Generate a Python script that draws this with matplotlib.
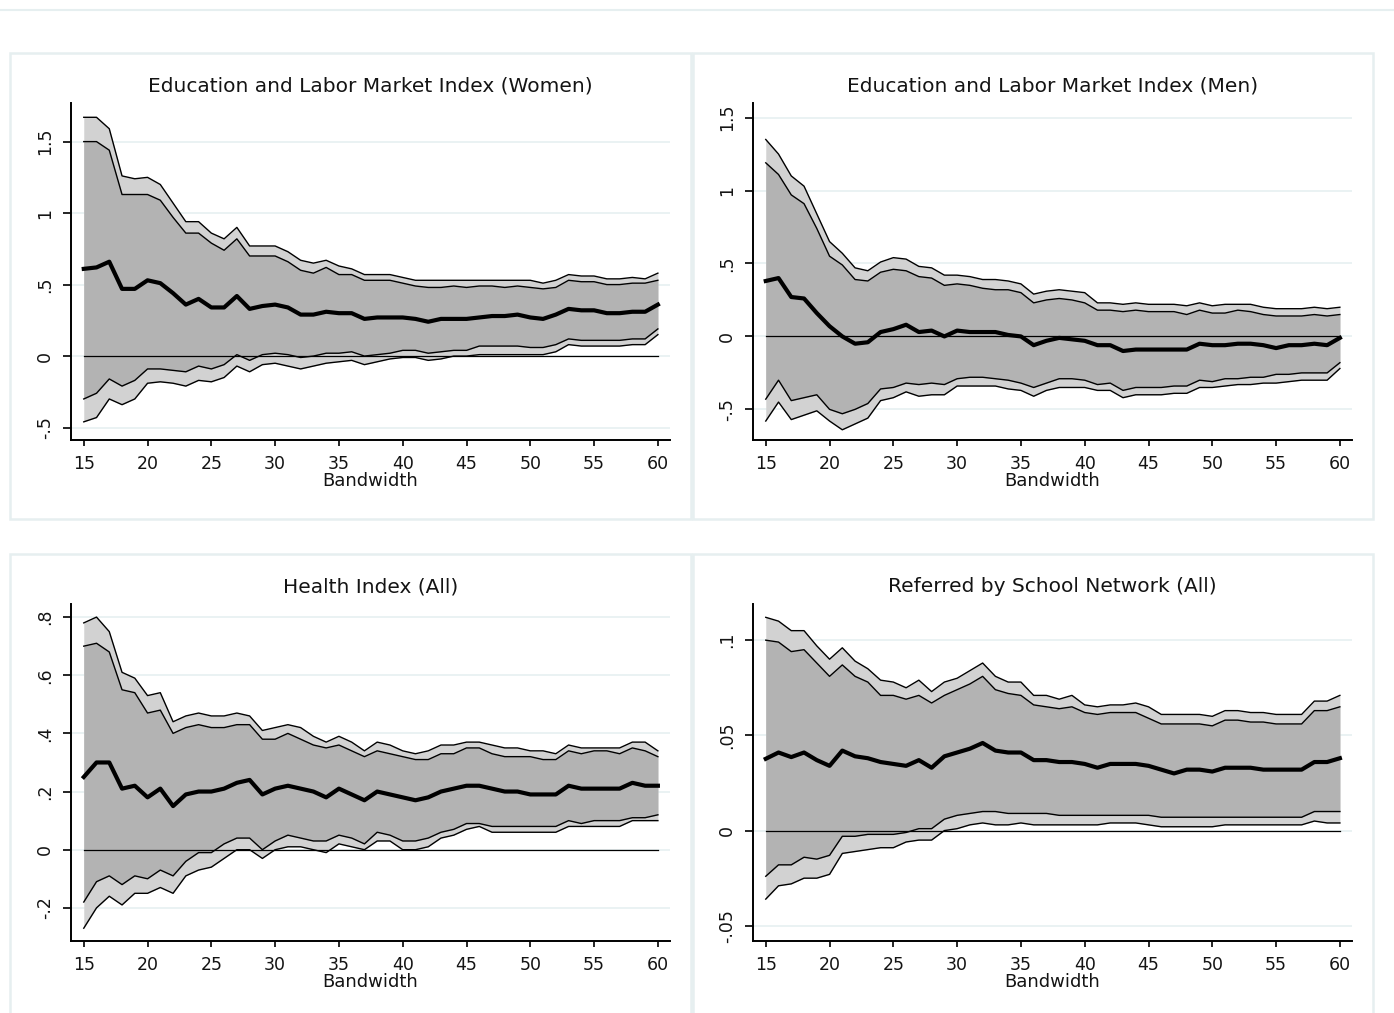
import matplotlib
matplotlib.use("Agg")
import matplotlib.pyplot as plt
from matplotlib.patches import Rectangle
from matplotlib.lines import Line2D

plt.rcParams['font.family'] = ['DejaVu Sans']

bandwidth = list(range(15, 61))

# Education and Labor Market Index (Women)
w_est = [0.61,0.62,0.66,0.47,0.47,0.53,0.51,0.44,0.36,0.40, 0.34,0.34,0.42,0.33,0.35,0.36,0.34,0.29,0.29,0.31,
         0.30,0.30,0.26,0.27,0.27,0.27,0.26,0.24,0.26,0.26, 0.26,0.27,0.28,0.28,0.29,0.27,0.26,0.29,0.33,0.32,
         0.32,0.30,0.30,0.31,0.31,0.36]
w_hi95 = [1.67,1.67,1.59,1.26,1.24,1.25,1.20,1.07,0.94,0.94, 0.86,0.82,0.90,0.77,0.77,0.77,0.73,0.67,0.65,0.67,
          0.63,0.61,0.57,0.57,0.57,0.55,0.53,0.53,0.53,0.53, 0.53,0.53,0.53,0.53,0.53,0.53,0.51,0.53,0.57,0.56,
          0.56,0.54,0.54,0.55,0.54,0.58]
w_hi90 = [1.50,1.50,1.44,1.13,1.13,1.13,1.09,0.97,0.86,0.86, 0.79,0.74,0.82,0.70,0.70,0.70,0.66,0.60,0.58,0.62,
          0.57,0.57,0.53,0.53,0.53,0.51,0.49,0.48,0.48,0.49, 0.48,0.49,0.49,0.48,0.49,0.48,0.47,0.48,0.53,0.52,
          0.52,0.50,0.50,0.51,0.51,0.53]
w_lo90 = [-0.30,-0.26,-0.16,-0.21,-0.17,-0.09,-0.09,-0.10,-0.11,-0.07, -0.09,-0.06,0.01,-0.03,0.01,0.02,0.01,-0.01,0.00,0.02,
          0.02,0.03,0.00,0.01,0.02,0.04,0.04,0.02,0.03,0.04, 0.04,0.07,0.07,0.07,0.07,0.06,0.06,0.08,0.12,0.11,
          0.11,0.11,0.11,0.12,0.12,0.19]
w_lo95 = [-0.46,-0.43,-0.30,-0.34,-0.30,-0.19,-0.18,-0.19,-0.21,-0.17, -0.18,-0.15,-0.07,-0.11,-0.06,-0.05,-0.07,-0.09,-0.07,-0.05,
          -0.04,-0.03,-0.06,-0.04,-0.02,-0.01,-0.01,-0.03,-0.02,0.00, 0.00,0.01,0.01,0.01,0.01,0.01,0.01,0.03,0.08,0.07,
          0.07,0.07,0.07,0.08,0.08,0.15]

# Education and Labor Market Index (Men)
m_est = [0.38,0.40,0.27,0.26,0.16,0.07,0.00,-0.05,-0.04,0.03, 0.05,0.08,0.03,0.04,0.00,0.04,0.03,0.03,0.03,0.01,
         0.00,-0.06,-0.03,-0.01,-0.02,-0.03,-0.06,-0.06,-0.10,-0.09, -0.09,-0.09,-0.09,-0.09,-0.05,-0.06,-0.06,-0.05,-0.05,-0.06,
         -0.08,-0.06,-0.06,-0.05,-0.06,-0.01]
m_hi95 = [1.35,1.25,1.10,1.03,0.84,0.65,0.57,0.47,0.45,0.51, 0.54,0.53,0.48,0.47,0.42,0.42,0.41,0.39,0.39,0.38,
          0.36,0.29,0.31,0.32,0.31,0.30,0.23,0.23,0.22,0.23, 0.22,0.22,0.22,0.21,0.23,0.21,0.22,0.22,0.22,0.20,
          0.19,0.19,0.19,0.20,0.19,0.20]
m_hi90 = [1.19,1.11,0.97,0.91,0.74,0.55,0.49,0.39,0.38,0.44, 0.46,0.45,0.41,0.40,0.35,0.36,0.35,0.33,0.32,0.32,
          0.30,0.23,0.25,0.26,0.25,0.23,0.18,0.18,0.17,0.18, 0.17,0.17,0.17,0.15,0.18,0.16,0.16,0.18,0.17,0.15,
          0.14,0.14,0.14,0.15,0.14,0.15]
m_lo90 = [-0.43,-0.30,-0.44,-0.42,-0.40,-0.50,-0.53,-0.50,-0.46,-0.36, -0.35,-0.32,-0.33,-0.32,-0.33,-0.29,-0.28,-0.28,-0.29,-0.30,
          -0.32,-0.35,-0.32,-0.29,-0.29,-0.30,-0.33,-0.32,-0.37,-0.35, -0.35,-0.35,-0.34,-0.34,-0.30,-0.31,-0.29,-0.29,-0.28,-0.28,
          -0.26,-0.26,-0.25,-0.25,-0.25,-0.18]
m_lo95 = [-0.58,-0.45,-0.57,-0.54,-0.51,-0.58,-0.64,-0.60,-0.56,-0.44, -0.42,-0.38,-0.41,-0.40,-0.40,-0.34,-0.34,-0.34,-0.34,-0.36,
          -0.37,-0.41,-0.37,-0.35,-0.35,-0.35,-0.37,-0.37,-0.42,-0.40, -0.40,-0.40,-0.39,-0.39,-0.35,-0.35,-0.34,-0.33,-0.33,-0.32,
          -0.32,-0.31,-0.30,-0.30,-0.30,-0.22]

# Health Index (All)
h_est = [0.25,0.30,0.30,0.21,0.22,0.18,0.21,0.15,0.19,0.20, 0.20,0.21,0.23,0.24,0.19,0.21,0.22,0.21,0.20,0.18,
         0.21,0.19,0.17,0.20,0.19,0.18,0.17,0.18,0.20,0.21, 0.22,0.22,0.21,0.20,0.20,0.19,0.19,0.19,0.22,0.21,
         0.21,0.21,0.21,0.23,0.22,0.22]
h_hi95 = [0.78,0.80,0.75,0.61,0.59,0.53,0.54,0.44,0.46,0.47, 0.46,0.46,0.47,0.46,0.41,0.42,0.43,0.42,0.39,0.37,
          0.39,0.37,0.34,0.37,0.36,0.34,0.33,0.34,0.36,0.36, 0.37,0.37,0.36,0.35,0.35,0.34,0.34,0.33,0.36,0.35,
          0.35,0.35,0.35,0.37,0.37,0.34]
h_hi90 = [0.70,0.71,0.68,0.55,0.54,0.47,0.48,0.40,0.42,0.43, 0.42,0.42,0.43,0.43,0.38,0.38,0.40,0.38,0.36,0.35,
          0.36,0.34,0.32,0.34,0.33,0.32,0.31,0.31,0.33,0.33, 0.35,0.35,0.33,0.32,0.32,0.32,0.31,0.31,0.34,0.33,
          0.34,0.34,0.33,0.35,0.34,0.32]
h_lo90 = [-0.18,-0.11,-0.09,-0.12,-0.09,-0.10,-0.07,-0.09,-0.04,-0.01, -0.01,0.02,0.04,0.04,0.00,0.03,0.05,0.04,0.03,0.03,
          0.05,0.04,0.02,0.06,0.05,0.03,0.03,0.04,0.06,0.07, 0.09,0.09,0.08,0.08,0.08,0.08,0.08,0.08,0.10,0.09,
          0.10,0.10,0.10,0.11,0.11,0.12]
h_lo95 = [-0.27,-0.20,-0.16,-0.19,-0.15,-0.15,-0.13,-0.15,-0.09,-0.07, -0.06,-0.03,0.00,0.00,-0.03,0.00,0.01,0.01,0.00,-0.01,
          0.02,0.01,0.00,0.03,0.03,0.00,0.00,0.01,0.04,0.05, 0.07,0.08,0.06,0.06,0.06,0.06,0.06,0.06,0.08,0.08,
          0.08,0.08,0.08,0.10,0.10,0.10]

# Referred by School Network (All)
r_est = [0.0377,0.041,0.0386,0.041,0.037,0.034,0.042,0.039,0.038,0.036, 0.035,0.034,0.037,0.033,0.039,0.041,0.043,0.046,0.042,0.041,
         0.041,0.037,0.037,0.036,0.036,0.035,0.033,0.035,0.035,0.035, 0.034,0.032,0.030,0.032,0.032,0.031,0.033,0.033,0.033,0.032,
         0.032,0.032,0.032,0.036,0.036,0.038]
r_hi95 = [0.112,0.110,0.105,0.105,0.097,0.090,0.096,0.089,0.085,0.079, 0.078,0.075,0.079,0.073,0.078,0.080,0.084,0.088,0.081,0.078,
          0.078,0.071,0.071,0.069,0.071,0.066,0.065,0.066,0.066,0.067, 0.065,0.061,0.061,0.061,0.061,0.060,0.063,0.063,0.062,0.062,
          0.061,0.061,0.061,0.068,0.068,0.071]
r_hi90 = [0.100,0.099,0.094,0.095,0.088,0.081,0.087,0.081,0.078,0.071, 0.071,0.069,0.071,0.067,0.071,0.074,0.077,0.081,0.074,0.072,
          0.071,0.066,0.065,0.064,0.065,0.062,0.061,0.062,0.062,0.062, 0.059,0.056,0.056,0.056,0.056,0.055,0.058,0.058,0.057,0.057,
          0.056,0.056,0.056,0.063,0.063,0.065]
r_lo90 = [-0.024,-0.018,-0.018,-0.014,-0.015,-0.013,-0.003,-0.003,-0.002,-0.002, -0.002,-0.001,0.001,0.001,0.006,0.008,0.009,0.010,0.010,0.009,
          0.009,0.009,0.009,0.008,0.008,0.008,0.008,0.008,0.008,0.008, 0.008,0.007,0.007,0.007,0.007,0.007,0.007,0.007,0.007,0.007,
          0.007,0.007,0.007,0.010,0.010,0.010]
r_lo95 = [-0.036,-0.029,-0.028,-0.025,-0.025,-0.023,-0.012,-0.011,-0.010,-0.009, -0.009,-0.006,-0.005,-0.005,0.000,0.001,0.003,0.004,0.003,0.003,
          0.004,0.003,0.003,0.003,0.003,0.003,0.003,0.004,0.004,0.004, 0.003,0.002,0.002,0.002,0.002,0.002,0.003,0.003,0.003,0.003,
          0.003,0.003,0.003,0.005,0.004,0.004]

titles = ["Education and Labor Market Index (Women)",
          "Education and Labor Market Index (Men)",
          "Health Index (All)",
          "Referred by School Network (All)"]
x_ticks = [15, 20, 25, 30, 35, 40, 45, 50, 55, 60]
y_ticks = [[-0.5, 0, 0.5, 1, 1.5], [-0.5, 0, 0.5, 1, 1.5],
           [-0.2, 0, 0.2, 0.4, 0.6, 0.8], [-0.05, 0, 0.05, 0.1]]
y_ticklabels = [["-.5", "0", ".5", "1", "1.5"], ["-.5", "0", ".5", "1", "1.5"],
                ["-.2", "0", ".2", ".4", ".6", ".8"], ["-.05", "0", ".05", ".1"]]
y_limits = [(-0.587, 1.77), (-0.71, 1.60), (-0.314, 0.845), (-0.058, 0.119)]

series = [(w_est, w_hi95, w_hi90, w_lo90, w_lo95),
          (m_est, m_hi95, m_hi90, m_lo90, m_lo95),
          (h_est, h_hi95, h_hi90, h_lo90, h_lo95),
          (r_est, r_hi95, r_hi90, r_lo90, r_lo95)]

W, H = 1394, 1013
fig = plt.figure(figsize=(W / 100, H / 100), dpi=100)
fig.patch.set_facecolor('white')

border_col = '#e6eff0'
grid_col = '#e8f1f2'
txt_col = '#141414'
# top separator line
fig.add_artist(Line2D([0, 1], [1 - 10 / H, 1 - 10 / H], color=border_col, lw=1.5, transform=fig.transFigure))
# panel boxes (pixel coords: left, top, right, bottom)
boxes = [(10, 53, 691, 519), (693, 53, 1373, 519), (10, 554, 691, 1020), (693, 554, 1373, 1020)]
for (l, t, r, b) in boxes:
    fig.add_artist(Rectangle((l / W, 1 - b / H), (r - l) / W, (b - t) / H, transform=fig.transFigure,
                             fill=False, edgecolor=border_col, lw=1.8))

# axes pixel positions: left, top, right, bottom
axpos = [(71, 103, 670, 440), (753, 103, 1352, 440), (71, 604, 670, 941), (753, 604, 1352, 941)]
title_y = [86, 86, 587, 587]

light = '#d2d2d2'
dark = '#b3b3b3'

for i, (l, t, r, b) in enumerate(axpos):
    ax = fig.add_axes([l / W, 1 - b / H, (r - l) / W, (b - t) / H])
    est, hi95, hi90, lo90, lo95 = series[i]
    ax.set_xlim(14.0, 60.95)
    ax.set_ylim(*y_limits[i])
    for yt in y_ticks[i]:
        ax.axhline(yt, color=grid_col, lw=1.3, zorder=0)
    ax.fill_between(bandwidth, lo95, hi95, color=light, lw=0, zorder=1)
    ax.fill_between(bandwidth, lo90, hi90, color=dark, lw=0, zorder=2)
    for s in (hi95, hi90, lo90, lo95):
        ax.plot(bandwidth, s, color='black', lw=1.0, zorder=3)
    ax.plot([bandwidth[0], bandwidth[-1]], [0, 0], color='black', lw=0.9, zorder=4)
    ax.plot(bandwidth, est, color='black', lw=3.0, zorder=5)
    for sp in ('top', 'right'):
        ax.spines[sp].set_visible(False)
    for sp in ('left', 'bottom'):
        ax.spines[sp].set_linewidth(1.4)
    ax.set_xticks(x_ticks)
    ax.set_xticklabels([str(v) for v in x_ticks], fontsize=12.5, color=txt_col)
    ax.set_yticks(y_ticks[i])
    ax.set_yticklabels(y_ticklabels[i], fontsize=12.5, rotation=90, va='center', color=txt_col)
    ax.tick_params(axis='x', length=4.5, width=1.2, pad=6.5)
    ax.tick_params(axis='y', length=6, width=1.2, pad=6)
    ax.set_xlabel("Bandwidth", fontsize=13, color=txt_col, va='center')
    ax.xaxis.set_label_coords(0.5, -41.0 / (b - t))
    ax.set_facecolor('none')
    cx = (l + r) / 2 / W
    fig.text(cx, 1 - title_y[i] / H, titles[i], ha='center', va='center', fontsize=14.5, color=txt_col)

fig.savefig("out.png", dpi=100)
